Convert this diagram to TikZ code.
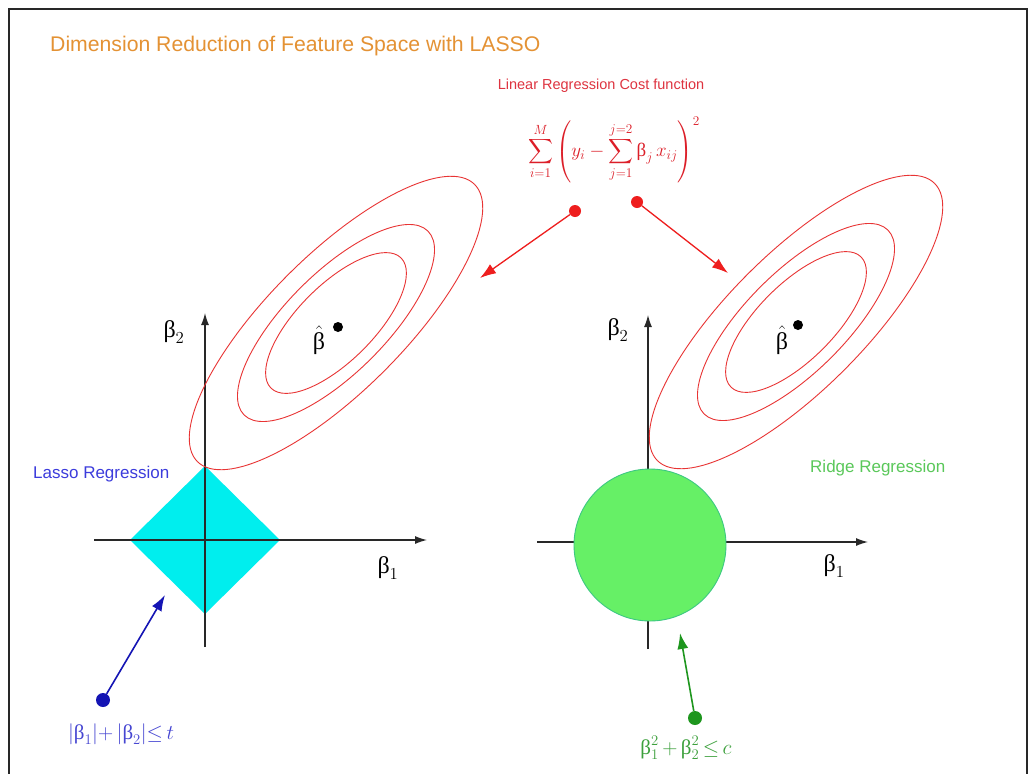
\RequirePackage{fix-cm}
\documentclass[tikz,border=0pt]{standalone}
\usepackage{exscale}
\usepackage[no-math]{fontspec}
\setmainfont{Liberation Sans}
\newfontfamily\serifgr{Liberation Serif}
\usetikzlibrary{arrows.meta}
\definecolor{titleorange}{RGB}{228,146,52}
\definecolor{costred}{RGB}{222,52,64}
\definecolor{formred}{RGB}{220,30,40}
\definecolor{ellred}{RGB}{232,52,52}
\definecolor{arrred}{RGB}{238,30,30}
\definecolor{cyanfill}{RGB}{0,238,238}
\definecolor{ridgefill}{RGB}{102,240,102}
\definecolor{ridgeedge}{RGB}{60,200,130}
\definecolor{lassoblue}{RGB}{60,60,220}
\definecolor{arrblue}{RGB}{20,20,180}
\definecolor{labblue}{RGB}{70,70,210}
\definecolor{arrgreen}{RGB}{30,150,30}
\definecolor{labgreen}{RGB}{60,160,60}
\definecolor{ridgegreen}{RGB}{90,200,90}
\definecolor{axisgray}{RGB}{40,40,40}
\newcommand\betaup{\mbox{\serifgr β}}
\begin{document}
\begin{tikzpicture}[x=1pt,y=1pt,
  axisline/.style={draw=axisgray, line width=1.2pt, -{Latex[length=12pt,width=8pt]}},
  ell/.style={draw=ellred, line width=0.9pt},
  dotnode/.style={circle, inner sep=0pt, minimum size=12pt},
  bigarrow/.style={line width=1.6pt, -{Latex[length=16pt,width=11pt]}},
  betalab/.style={inner sep=0pt, font=\fontsize{24}{28}\selectfont},
  consl/.style={inner sep=0pt, font=\fontsize{21}{25}\selectfont}
]
\useasboundingbox (0,0) rectangle (1034,-774);
\fill[white] (0,0) rectangle (1034,-774);
\draw[axisgray, line width=1.5pt] (9,-774) -- (9,-9) -- (1027,-9) -- (1027,-774);

% titles
\node[anchor=base west, inner sep=0pt, text=titleorange, font=\fontsize{21.2}{25}\selectfont] (title) at (50,-51) {Dimension Reduction of Feature Space with LASSO};
\node[anchor=base, inner sep=0pt, text=costred, font=\fontsize{14.5}{17}\selectfont] (cost) at (601,-89) {Linear Regression Cost function};
\node[inner sep=0pt, text=formred, font=\fontsize{19}{22}\selectfont] (formula) at (614,-150)
  {$\displaystyle\sum_{i=1}^{M}\left(y_i-\sum_{j=1}^{j=2}\betaup_j\,x_{ij}\right)^{2}$};

% left plot
\fill[cyanfill] (130,-540) -- (205,-466) -- (280,-540) -- (205,-614) -- cycle;
\coordinate (LxS) at (94,-540);
\coordinate (LxE) at (427,-540);
\coordinate (LyS) at (205,-647);
\coordinate (LyE) at (205,-313);
\draw[axisline] (LxS) -- (LxE);
\draw[axisline] (LyS) -- (LyE);
\coordinate (LC) at (336,-323);
\draw[ell, rotate around={45:(LC)}] (LC) ellipse [x radius=196, y radius=68];
\draw[ell, rotate around={45:(LC)}] (LC) ellipse [x radius=130, y radius=50];
\draw[ell, rotate around={45:(LC)}] (LC) ellipse [x radius=92, y radius=38];
\node[dotnode, fill=black, minimum size=10pt] (Lhat) at (338,-327) {};
\node[betalab] (Lhatlab) at (319,-340) {$\hat{\betaup}$};
\node[betalab] (Lb2) at (174,-332) {$\betaup_2$};
\node[betalab] (Lb1) at (388,-568) {$\betaup_1$};
\node[anchor=base west, inner sep=0pt, text=lassoblue, font=\fontsize{17}{20}\selectfont] (lasso) at (33,-478) {Lasso Regression};

% right plot
\coordinate (RxS) at (537,-542);
\coordinate (RxE) at (868,-542);
\coordinate (RyS) at (648,-649);
\coordinate (RyE) at (648,-315);
\draw[axisline] (RxS) -- (RxE);
\draw[axisline] (RyS) -- (RyE);
\node[circle, fill=ridgefill, draw=ridgeedge, line width=0.9pt, minimum size=152pt, inner sep=0pt] (ridge) at (650,-545) {};
\coordinate (RC) at (796,-322);
\draw[ell, rotate around={45:(RC)}] (RC) ellipse [x radius=196, y radius=68];
\draw[ell, rotate around={45:(RC)}] (RC) ellipse [x radius=130, y radius=50];
\draw[ell, rotate around={45:(RC)}] (RC) ellipse [x radius=92, y radius=38];
\node[dotnode, fill=black, minimum size=10pt] (Rhat) at (798,-325) {};
\node[betalab] (Rhatlab) at (782,-340) {$\hat{\betaup}$};
\node[betalab] (Rb2) at (618,-330) {$\betaup_2$};
\node[betalab] (Rb1) at (834,-566) {$\betaup_1$};
\node[anchor=base west, inner sep=0pt, text=ridgegreen, font=\fontsize{17}{20}\selectfont] (ridgelab) at (810,-472) {Ridge Regression};

% red arrows
\node[dotnode, fill=arrred] (rdotL) at (575,-211) {};
\node[dotnode, fill=arrred] (rdotR) at (637,-202) {};
\coordinate (rtipL) at (480,-278);
\coordinate (rtipR) at (728,-273);
\draw[bigarrow, draw=arrred, fill=arrred, line width=1.3pt] (rdotL) -- (rtipL);
\draw[bigarrow, draw=arrred, fill=arrred, line width=1.3pt] (rdotR) -- (rtipR);

% blue arrow and label
\node[dotnode, fill=arrblue, minimum size=14pt] (bdot) at (103,-700) {};
\coordinate (btip) at (165,-595);
\draw[bigarrow, draw=arrblue, fill=arrblue] (bdot) -- (btip);
\node[consl, text=labblue] (blab) at (121,-734) {$|\betaup_1|{+}\,|\betaup_2|{\le}\,t$};

% green arrow and label
\node[dotnode, fill=arrgreen, minimum size=14pt] (gdot) at (695,-718) {};
\coordinate (gtip) at (680,-633);
\draw[bigarrow, draw=arrgreen, fill=arrgreen] (gdot) -- (gtip);
\node[consl, text=labgreen] (glab) at (686,-748) {$\betaup_1^2\,{+}\,\betaup_2^2\,{\le}\,c$};
\end{tikzpicture}
\end{document}
